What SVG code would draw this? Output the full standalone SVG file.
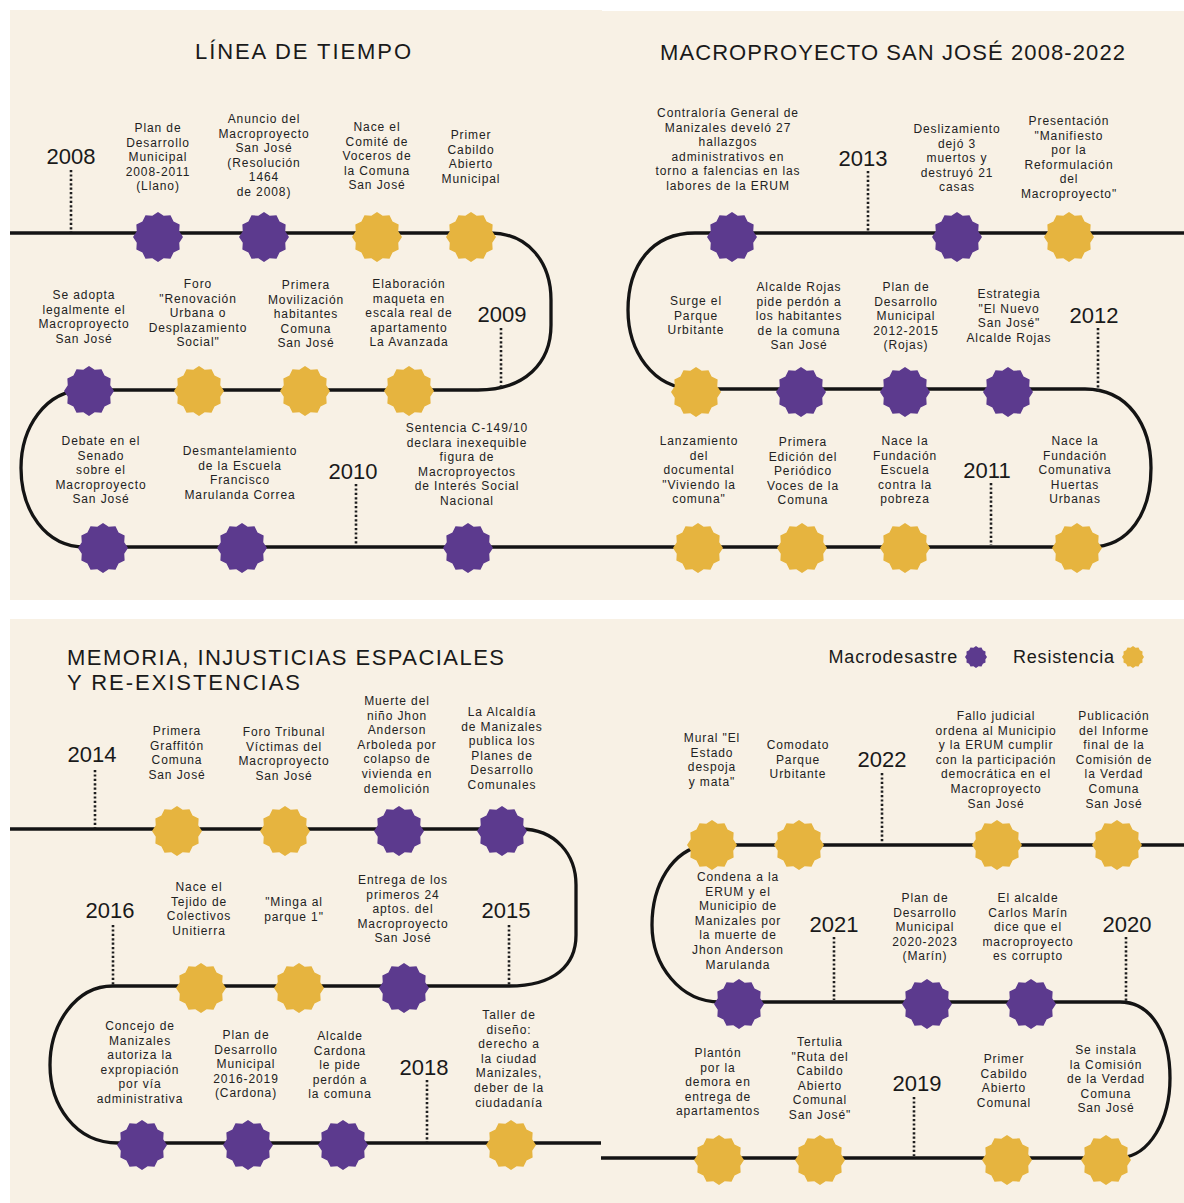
<svg xmlns="http://www.w3.org/2000/svg" xmlns:xlink="http://www.w3.org/1999/xlink" width="1184" height="1203" viewBox="0 0 1184 1203">
<style>
.bg{fill:#F8F1E5}
.tl{fill:none;stroke:#141414;stroke-width:3.3;stroke-linecap:butt}
.dot{stroke:#1e1e1e;stroke-width:2.6;stroke-dasharray:2.2 2.2;fill:none}
.p{fill:#5C3A8E}
.y{fill:#E6B43F}
text{font-family:"Liberation Sans","Noto Sans",Arial,sans-serif;fill:#222}
.lbl{font-size:12px;letter-spacing:0.9px;text-anchor:middle}
.yr{font-size:22px;text-anchor:middle;fill:#1a1a1a}
.ttl{font-size:22px;fill:#1a1a1a}
.leg{font-size:18px;letter-spacing:0.8px;fill:#1a1a1a}
</style>
<defs>
<polygon id="star" points="0,-25 5.69,-21.25 12.5,-21.65 15.56,-15.56 21.65,-12.5 21.25,-5.69 25,0 21.25,5.69 21.65,12.5 15.56,15.56 12.5,21.65 5.69,21.25 0,25 -5.69,21.25 -12.5,21.65 -15.56,15.56 -21.65,12.5 -21.25,5.69 -25,0 -21.25,-5.69 -21.65,-12.5 -15.56,-15.56 -12.5,-21.65 -5.69,-21.25"/>
<polygon id="mini" points="0,-11 2.51,-9.37 5.5,-9.53 6.86,-6.86 9.53,-5.5 9.37,-2.51 11,0 9.37,2.51 9.53,5.5 6.86,6.86 5.5,9.53 2.51,9.37 0,11 -2.51,9.37 -5.5,9.53 -6.86,6.86 -9.53,5.5 -9.37,2.51 -11,0 -9.37,-2.51 -9.53,-5.5 -6.86,-6.86 -5.5,-9.53 -2.51,-9.37"/>
</defs>
<rect width="1184" height="1203" fill="#ffffff"/>
<rect class="bg" x="10" y="10" width="592" height="590"/>
<rect class="bg" x="602" y="11" width="582" height="589"/>
<rect class="bg" x="10" y="619" width="591" height="584"/>
<rect class="bg" x="601" y="619" width="583" height="584"/>

<g id="titles">
<text class="ttl" x="195" y="59" textLength="216" lengthAdjust="spacing">LÍNEA DE TIEMPO</text>
<text class="ttl" x="660" y="60" textLength="465" lengthAdjust="spacing">MACROPROYECTO SAN JOSÉ 2008-2022</text>
<text class="ttl" x="67" y="665" textLength="437" lengthAdjust="spacing">MEMORIA, INJUSTICIAS ESPACIALES</text>
<text class="ttl" x="67" y="690" textLength="233" lengthAdjust="spacing">Y RE-EXISTENCIAS</text>
</g>

<g id="legend">
<text class="leg" x="958" y="663" text-anchor="end">Macrodesastre</text>
<use href="#mini" x="976" y="657" class="p"/>
<text class="leg" x="1013" y="663">Resistencia</text>
<use href="#mini" x="1133" y="657" class="y"/>
</g>

<g id="connectors">
<path class="tl" d="M10 233 H490 C528 233 551 262 551 300 V325 C551 363 525 390 478 390 H85 C45 390 21 428 21 468 C21 510 45 547 85 547 H601"/>
<path class="tl" d="M601 547 H1090 C1130 547 1151 512 1151 468 C1151 425 1128 389 1085 389 H695 C652 389 628 350 628 310 C628 265 652 233 695 233 H1184"/>
<path class="tl" d="M10 829 H520 C556 829 576 855 576 885 V935 C576 965 555 986 509 986 H113 C75 986 50 1025 50 1065 C50 1105 75 1143 118 1143 H601"/>
<path class="tl" d="M601 1158 H1120 C1150 1156 1170 1120 1170 1078 C1170 1035 1152 1002 1120 1002 H720 C680 1002 652 965 652 925 C652 885 672 850 705 845 H1184"/>
</g>

<g id="years">
<g id="y2008"><text class="yr" x="71" y="164">2008</text><line class="dot" x1="71" y1="170" x2="71" y2="232"/></g>
<g id="y2009"><text class="yr" x="502" y="322">2009</text><line class="dot" x1="501" y1="328" x2="501" y2="388"/></g>
<g id="y2010"><text class="yr" x="353" y="479">2010</text><line class="dot" x1="356" y1="484" x2="356" y2="545"/></g>
<g id="y2013"><text class="yr" x="863" y="166">2013</text><line class="dot" x1="868" y1="171" x2="868" y2="231"/></g>
<g id="y2012"><text class="yr" x="1094" y="323">2012</text><line class="dot" x1="1098" y1="328" x2="1098" y2="392"/></g>
<g id="y2011"><text class="yr" x="987" y="478">2011</text><line class="dot" x1="991" y1="483" x2="991" y2="545"/></g>
<g id="y2014"><text class="yr" x="92" y="762">2014</text><line class="dot" x1="95" y1="770" x2="95" y2="828"/></g>
<g id="y2016"><text class="yr" x="110" y="918">2016</text><line class="dot" x1="113" y1="925" x2="113" y2="985"/></g>
<g id="y2015"><text class="yr" x="506" y="918">2015</text><line class="dot" x1="509" y1="925" x2="509" y2="985"/></g>
<g id="y2018"><text class="yr" x="424" y="1075">2018</text><line class="dot" x1="427" y1="1080" x2="427" y2="1142"/></g>
<g id="y2022"><text class="yr" x="882" y="767">2022</text><line class="dot" x1="882" y1="773" x2="882" y2="843"/></g>
<g id="y2021"><text class="yr" x="834" y="932">2021</text><line class="dot" x1="834" y1="937" x2="834" y2="1000"/></g>
<g id="y2020"><text class="yr" x="1127" y="932">2020</text><line class="dot" x1="1126" y1="937" x2="1126" y2="1002"/></g>
<g id="y2019"><text class="yr" x="917" y="1091">2019</text><line class="dot" x1="914" y1="1097" x2="914" y2="1156"/></g>
</g>

<!-- Top-left -->
<g id="n01"><use href="#star" x="158" y="237" class="p"/><text class="lbl" y="132"><tspan x="158">Plan de</tspan><tspan x="158" dy="14.6">Desarrollo</tspan><tspan x="158" dy="14.6">Municipal</tspan><tspan x="158" dy="14.6">2008-2011</tspan><tspan x="158" dy="14.6">(Llano)</tspan></text></g>
<g id="n02"><use href="#star" x="264" y="237" class="p"/><text class="lbl" y="123"><tspan x="264">Anuncio del</tspan><tspan x="264" dy="14.6">Macroproyecto</tspan><tspan x="264" dy="14.6">San José</tspan><tspan x="264" dy="14.6">(Resolución</tspan><tspan x="264" dy="14.6">1464</tspan><tspan x="264" dy="14.6">de 2008)</tspan></text></g>
<g id="n03"><use href="#star" x="377" y="237" class="y"/><text class="lbl" y="131"><tspan x="377">Nace el</tspan><tspan x="377" dy="14.6">Comité de</tspan><tspan x="377" dy="14.6">Voceros de</tspan><tspan x="377" dy="14.6">la Comuna</tspan><tspan x="377" dy="14.6">San José</tspan></text></g>
<g id="n04"><use href="#star" x="471" y="237" class="y"/><text class="lbl" y="139"><tspan x="471">Primer</tspan><tspan x="471" dy="14.6">Cabildo</tspan><tspan x="471" dy="14.6">Abierto</tspan><tspan x="471" dy="14.6">Municipal</tspan></text></g>
<g id="n05"><use href="#star" x="89" y="391" class="p"/><text class="lbl" y="299"><tspan x="84">Se adopta</tspan><tspan x="84" dy="14.6">legalmente el</tspan><tspan x="84" dy="14.6">Macroproyecto</tspan><tspan x="84" dy="14.6">San José</tspan></text></g>
<g id="n06"><use href="#star" x="199" y="391" class="y"/><text class="lbl" y="288"><tspan x="198">Foro</tspan><tspan x="198" dy="14.6">"Renovación</tspan><tspan x="198" dy="14.6">Urbana o</tspan><tspan x="198" dy="14.6">Desplazamiento</tspan><tspan x="198" dy="14.6">Social"</tspan></text></g>
<g id="n07"><use href="#star" x="305" y="391" class="y"/><text class="lbl" y="289"><tspan x="306">Primera</tspan><tspan x="306" dy="14.6">Movilización</tspan><tspan x="306" dy="14.6">habitantes</tspan><tspan x="306" dy="14.6">Comuna</tspan><tspan x="306" dy="14.6">San José</tspan></text></g>
<g id="n08"><use href="#star" x="409" y="391" class="y"/><text class="lbl" y="288"><tspan x="409">Elaboración</tspan><tspan x="409" dy="14.6">maqueta en</tspan><tspan x="409" dy="14.6">escala real de</tspan><tspan x="409" dy="14.6">apartamento</tspan><tspan x="409" dy="14.6">La Avanzada</tspan></text></g>
<g id="n09"><use href="#star" x="103" y="548" class="p"/><text class="lbl" y="445"><tspan x="101">Debate en el</tspan><tspan x="101" dy="14.6">Senado</tspan><tspan x="101" dy="14.6">sobre el</tspan><tspan x="101" dy="14.6">Macroproyecto</tspan><tspan x="101" dy="14.6">San José</tspan></text></g>
<g id="n10"><use href="#star" x="242" y="548" class="p"/><text class="lbl" y="455"><tspan x="240">Desmantelamiento</tspan><tspan x="240" dy="14.6">de la Escuela</tspan><tspan x="240" dy="14.6">Francisco</tspan><tspan x="240" dy="14.6">Marulanda Correa</tspan></text></g>
<g id="n11"><use href="#star" x="468" y="548" class="p"/><text class="lbl" y="432"><tspan x="467">Sentencia C-149/10</tspan><tspan x="467" dy="14.6">declara inexequible</tspan><tspan x="467" dy="14.6">figura de</tspan><tspan x="467" dy="14.6">Macroproyectos</tspan><tspan x="467" dy="14.6">de Interés Social</tspan><tspan x="467" dy="14.6">Nacional</tspan></text></g>

<!-- Top-right -->
<g id="n12"><use href="#star" x="732" y="237" class="p"/><text class="lbl" y="117"><tspan x="728">Contraloría General de</tspan><tspan x="728" dy="14.6">Manizales develó 27</tspan><tspan x="728" dy="14.6">hallazgos</tspan><tspan x="728" dy="14.6">administrativos en</tspan><tspan x="728" dy="14.6">torno a falencias en las</tspan><tspan x="728" dy="14.6">labores de la ERUM</tspan></text></g>
<g id="n13"><use href="#star" x="957" y="237" class="p"/><text class="lbl" y="133"><tspan x="957">Deslizamiento</tspan><tspan x="957" dy="14.6">dejó 3</tspan><tspan x="957" dy="14.6">muertos y</tspan><tspan x="957" dy="14.6">destruyó 21</tspan><tspan x="957" dy="14.6">casas</tspan></text></g>
<g id="n14"><use href="#star" x="1069" y="237" class="y"/><text class="lbl" y="125"><tspan x="1069">Presentación</tspan><tspan x="1069" dy="14.6">"Manifiesto</tspan><tspan x="1069" dy="14.6">por la</tspan><tspan x="1069" dy="14.6">Reformulación</tspan><tspan x="1069" dy="14.6">del</tspan><tspan x="1069" dy="14.6">Macroproyecto"</tspan></text></g>
<g id="n15"><use href="#star" x="696" y="392" class="y"/><text class="lbl" y="305"><tspan x="696">Surge el</tspan><tspan x="696" dy="14.6">Parque</tspan><tspan x="696" dy="14.6">Urbitante</tspan></text></g>
<g id="n16"><use href="#star" x="801" y="392" class="p"/><text class="lbl" y="291"><tspan x="799">Alcalde Rojas</tspan><tspan x="799" dy="14.6">pide perdón a</tspan><tspan x="799" dy="14.6">los habitantes</tspan><tspan x="799" dy="14.6">de la comuna</tspan><tspan x="799" dy="14.6">San José</tspan></text></g>
<g id="n17"><use href="#star" x="905" y="392" class="p"/><text class="lbl" y="291"><tspan x="906">Plan de</tspan><tspan x="906" dy="14.6">Desarrollo</tspan><tspan x="906" dy="14.6">Municipal</tspan><tspan x="906" dy="14.6">2012-2015</tspan><tspan x="906" dy="14.6">(Rojas)</tspan></text></g>
<g id="n18"><use href="#star" x="1008" y="392" class="p"/><text class="lbl" y="298"><tspan x="1009">Estrategia</tspan><tspan x="1009" dy="14.6">"El Nuevo</tspan><tspan x="1009" dy="14.6">San José"</tspan><tspan x="1009" dy="14.6">Alcalde Rojas</tspan></text></g>
<g id="n19"><use href="#star" x="698" y="548" class="y"/><text class="lbl" y="445"><tspan x="699">Lanzamiento</tspan><tspan x="699" dy="14.6">del</tspan><tspan x="699" dy="14.6">documental</tspan><tspan x="699" dy="14.6">"Viviendo la</tspan><tspan x="699" dy="14.6">comuna"</tspan></text></g>
<g id="n20"><use href="#star" x="802" y="548" class="y"/><text class="lbl" y="446"><tspan x="803">Primera</tspan><tspan x="803" dy="14.6">Edición del</tspan><tspan x="803" dy="14.6">Periódico</tspan><tspan x="803" dy="14.6">Voces de la</tspan><tspan x="803" dy="14.6">Comuna</tspan></text></g>
<g id="n21"><use href="#star" x="905" y="548" class="y"/><text class="lbl" y="445"><tspan x="905">Nace la</tspan><tspan x="905" dy="14.6">Fundación</tspan><tspan x="905" dy="14.6">Escuela</tspan><tspan x="905" dy="14.6">contra la</tspan><tspan x="905" dy="14.6">pobreza</tspan></text></g>
<g id="n22"><use href="#star" x="1077" y="548" class="y"/><text class="lbl" y="445"><tspan x="1075">Nace la</tspan><tspan x="1075" dy="14.6">Fundación</tspan><tspan x="1075" dy="14.6">Comunativa</tspan><tspan x="1075" dy="14.6">Huertas</tspan><tspan x="1075" dy="14.6">Urbanas</tspan></text></g>

<!-- Bottom-left -->
<g id="n23"><use href="#star" x="177" y="831" class="y"/><text class="lbl" y="735"><tspan x="177">Primera</tspan><tspan x="177" dy="14.6">Graffitón</tspan><tspan x="177" dy="14.6">Comuna</tspan><tspan x="177" dy="14.6">San José</tspan></text></g>
<g id="n24"><use href="#star" x="285" y="831" class="y"/><text class="lbl" y="736"><tspan x="284">Foro Tribunal</tspan><tspan x="284" dy="14.6">Víctimas del</tspan><tspan x="284" dy="14.6">Macroproyecto</tspan><tspan x="284" dy="14.6">San José</tspan></text></g>
<g id="n25"><use href="#star" x="399" y="831" class="p"/><text class="lbl" y="705"><tspan x="397">Muerte del</tspan><tspan x="397" dy="14.6">niño Jhon</tspan><tspan x="397" dy="14.6">Anderson</tspan><tspan x="397" dy="14.6">Arboleda por</tspan><tspan x="397" dy="14.6">colapso de</tspan><tspan x="397" dy="14.6">vivienda en</tspan><tspan x="397" dy="14.6">demolición</tspan></text></g>
<g id="n26"><use href="#star" x="502" y="831" class="p"/><text class="lbl" y="716"><tspan x="502">La Alcaldía</tspan><tspan x="502" dy="14.6">de Manizales</tspan><tspan x="502" dy="14.6">publica los</tspan><tspan x="502" dy="14.6">Planes de</tspan><tspan x="502" dy="14.6">Desarrollo</tspan><tspan x="502" dy="14.6">Comunales</tspan></text></g>
<g id="n27"><use href="#star" x="201" y="988" class="y"/><text class="lbl" y="891"><tspan x="199">Nace el</tspan><tspan x="199" dy="14.6">Tejido de</tspan><tspan x="199" dy="14.6">Colectivos</tspan><tspan x="199" dy="14.6">Unitierra</tspan></text></g>
<g id="n28"><use href="#star" x="299" y="988" class="y"/><text class="lbl" y="906"><tspan x="294">"Minga al</tspan><tspan x="294" dy="14.6">parque 1"</tspan></text></g>
<g id="n29"><use href="#star" x="404" y="988" class="p"/><text class="lbl" y="884"><tspan x="403">Entrega de los</tspan><tspan x="403" dy="14.6">primeros 24</tspan><tspan x="403" dy="14.6">aptos. del</tspan><tspan x="403" dy="14.6">Macroproyecto</tspan><tspan x="403" dy="14.6">San José</tspan></text></g>
<g id="n30"><use href="#star" x="142" y="1145" class="p"/><text class="lbl" y="1030"><tspan x="140">Concejo de</tspan><tspan x="140" dy="14.6">Manizales</tspan><tspan x="140" dy="14.6">autoriza la</tspan><tspan x="140" dy="14.6">expropiación</tspan><tspan x="140" dy="14.6">por vía</tspan><tspan x="140" dy="14.6">administrativa</tspan></text></g>
<g id="n31"><use href="#star" x="248" y="1145" class="p"/><text class="lbl" y="1039"><tspan x="246">Plan de</tspan><tspan x="246" dy="14.6">Desarrollo</tspan><tspan x="246" dy="14.6">Municipal</tspan><tspan x="246" dy="14.6">2016-2019</tspan><tspan x="246" dy="14.6">(Cardona)</tspan></text></g>
<g id="n32"><use href="#star" x="343" y="1145" class="p"/><text class="lbl" y="1040"><tspan x="340">Alcalde</tspan><tspan x="340" dy="14.6">Cardona</tspan><tspan x="340" dy="14.6">le pide</tspan><tspan x="340" dy="14.6">perdón a</tspan><tspan x="340" dy="14.6">la comuna</tspan></text></g>
<g id="n33"><use href="#star" x="511" y="1145" class="y"/><text class="lbl" y="1019"><tspan x="509">Taller de</tspan><tspan x="509" dy="14.6">diseño:</tspan><tspan x="509" dy="14.6">derecho a</tspan><tspan x="509" dy="14.6">la ciudad</tspan><tspan x="509" dy="14.6">Manizales,</tspan><tspan x="509" dy="14.6">deber de la</tspan><tspan x="509" dy="14.6">ciudadanía</tspan></text></g>

<!-- Bottom-right -->
<g id="n34"><use href="#star" x="712" y="845" class="y"/><text class="lbl" y="742"><tspan x="712">Mural "El</tspan><tspan x="712" dy="14.6">Estado</tspan><tspan x="712" dy="14.6">despoja</tspan><tspan x="712" dy="14.6">y mata"</tspan></text></g>
<g id="n35"><use href="#star" x="799" y="845" class="y"/><text class="lbl" y="749"><tspan x="798">Comodato</tspan><tspan x="798" dy="14.6">Parque</tspan><tspan x="798" dy="14.6">Urbitante</tspan></text></g>
<g id="n36"><use href="#star" x="997" y="845" class="y"/><text class="lbl" y="720"><tspan x="996">Fallo judicial</tspan><tspan x="996" dy="14.6">ordena al Municipio</tspan><tspan x="996" dy="14.6">y la ERUM cumplir</tspan><tspan x="996" dy="14.6">con la participación</tspan><tspan x="996" dy="14.6">democrática en el</tspan><tspan x="996" dy="14.6">Macroproyecto</tspan><tspan x="996" dy="14.6">San José</tspan></text></g>
<g id="n37"><use href="#star" x="1117" y="845" class="y"/><text class="lbl" y="720"><tspan x="1114">Publicación</tspan><tspan x="1114" dy="14.6">del Informe</tspan><tspan x="1114" dy="14.6">final de la</tspan><tspan x="1114" dy="14.6">Comisión de</tspan><tspan x="1114" dy="14.6">la Verdad</tspan><tspan x="1114" dy="14.6">Comuna</tspan><tspan x="1114" dy="14.6">San José</tspan></text></g>
<g id="n38"><use href="#star" x="739" y="1004" class="p"/><text class="lbl" y="881"><tspan x="738">Condena a la</tspan><tspan x="738" dy="14.6">ERUM y el</tspan><tspan x="738" dy="14.6">Municipio de</tspan><tspan x="738" dy="14.6">Manizales por</tspan><tspan x="738" dy="14.6">la muerte de</tspan><tspan x="738" dy="14.6">Jhon Anderson</tspan><tspan x="738" dy="14.6">Marulanda</tspan></text></g>
<g id="n39"><use href="#star" x="927" y="1004" class="p"/><text class="lbl" y="902"><tspan x="925">Plan de</tspan><tspan x="925" dy="14.6">Desarrollo</tspan><tspan x="925" dy="14.6">Municipal</tspan><tspan x="925" dy="14.6">2020-2023</tspan><tspan x="925" dy="14.6">(Marín)</tspan></text></g>
<g id="n40"><use href="#star" x="1031" y="1004" class="p"/><text class="lbl" y="902"><tspan x="1028">El alcalde</tspan><tspan x="1028" dy="14.6">Carlos Marín</tspan><tspan x="1028" dy="14.6">dice que el</tspan><tspan x="1028" dy="14.6">macroproyecto</tspan><tspan x="1028" dy="14.6">es corrupto</tspan></text></g>
<g id="n41"><use href="#star" x="719" y="1160" class="y"/><text class="lbl" y="1057"><tspan x="718">Plantón</tspan><tspan x="718" dy="14.6">por la</tspan><tspan x="718" dy="14.6">demora en</tspan><tspan x="718" dy="14.6">entrega de</tspan><tspan x="718" dy="14.6">apartamentos</tspan></text></g>
<g id="n42"><use href="#star" x="820" y="1160" class="y"/><text class="lbl" y="1046"><tspan x="820">Tertulia</tspan><tspan x="820" dy="14.6">"Ruta del</tspan><tspan x="820" dy="14.6">Cabildo</tspan><tspan x="820" dy="14.6">Abierto</tspan><tspan x="820" dy="14.6">Comunal</tspan><tspan x="820" dy="14.6">San José"</tspan></text></g>
<g id="n43"><use href="#star" x="1007" y="1160" class="y"/><text class="lbl" y="1063"><tspan x="1004">Primer</tspan><tspan x="1004" dy="14.6">Cabildo</tspan><tspan x="1004" dy="14.6">Abierto</tspan><tspan x="1004" dy="14.6">Comunal</tspan></text></g>
<g id="n44"><use href="#star" x="1106" y="1160" class="y"/><text class="lbl" y="1054"><tspan x="1106">Se instala</tspan><tspan x="1106" dy="14.6">la Comisión</tspan><tspan x="1106" dy="14.6">de la Verdad</tspan><tspan x="1106" dy="14.6">Comuna</tspan><tspan x="1106" dy="14.6">San José</tspan></text></g>
</svg>
